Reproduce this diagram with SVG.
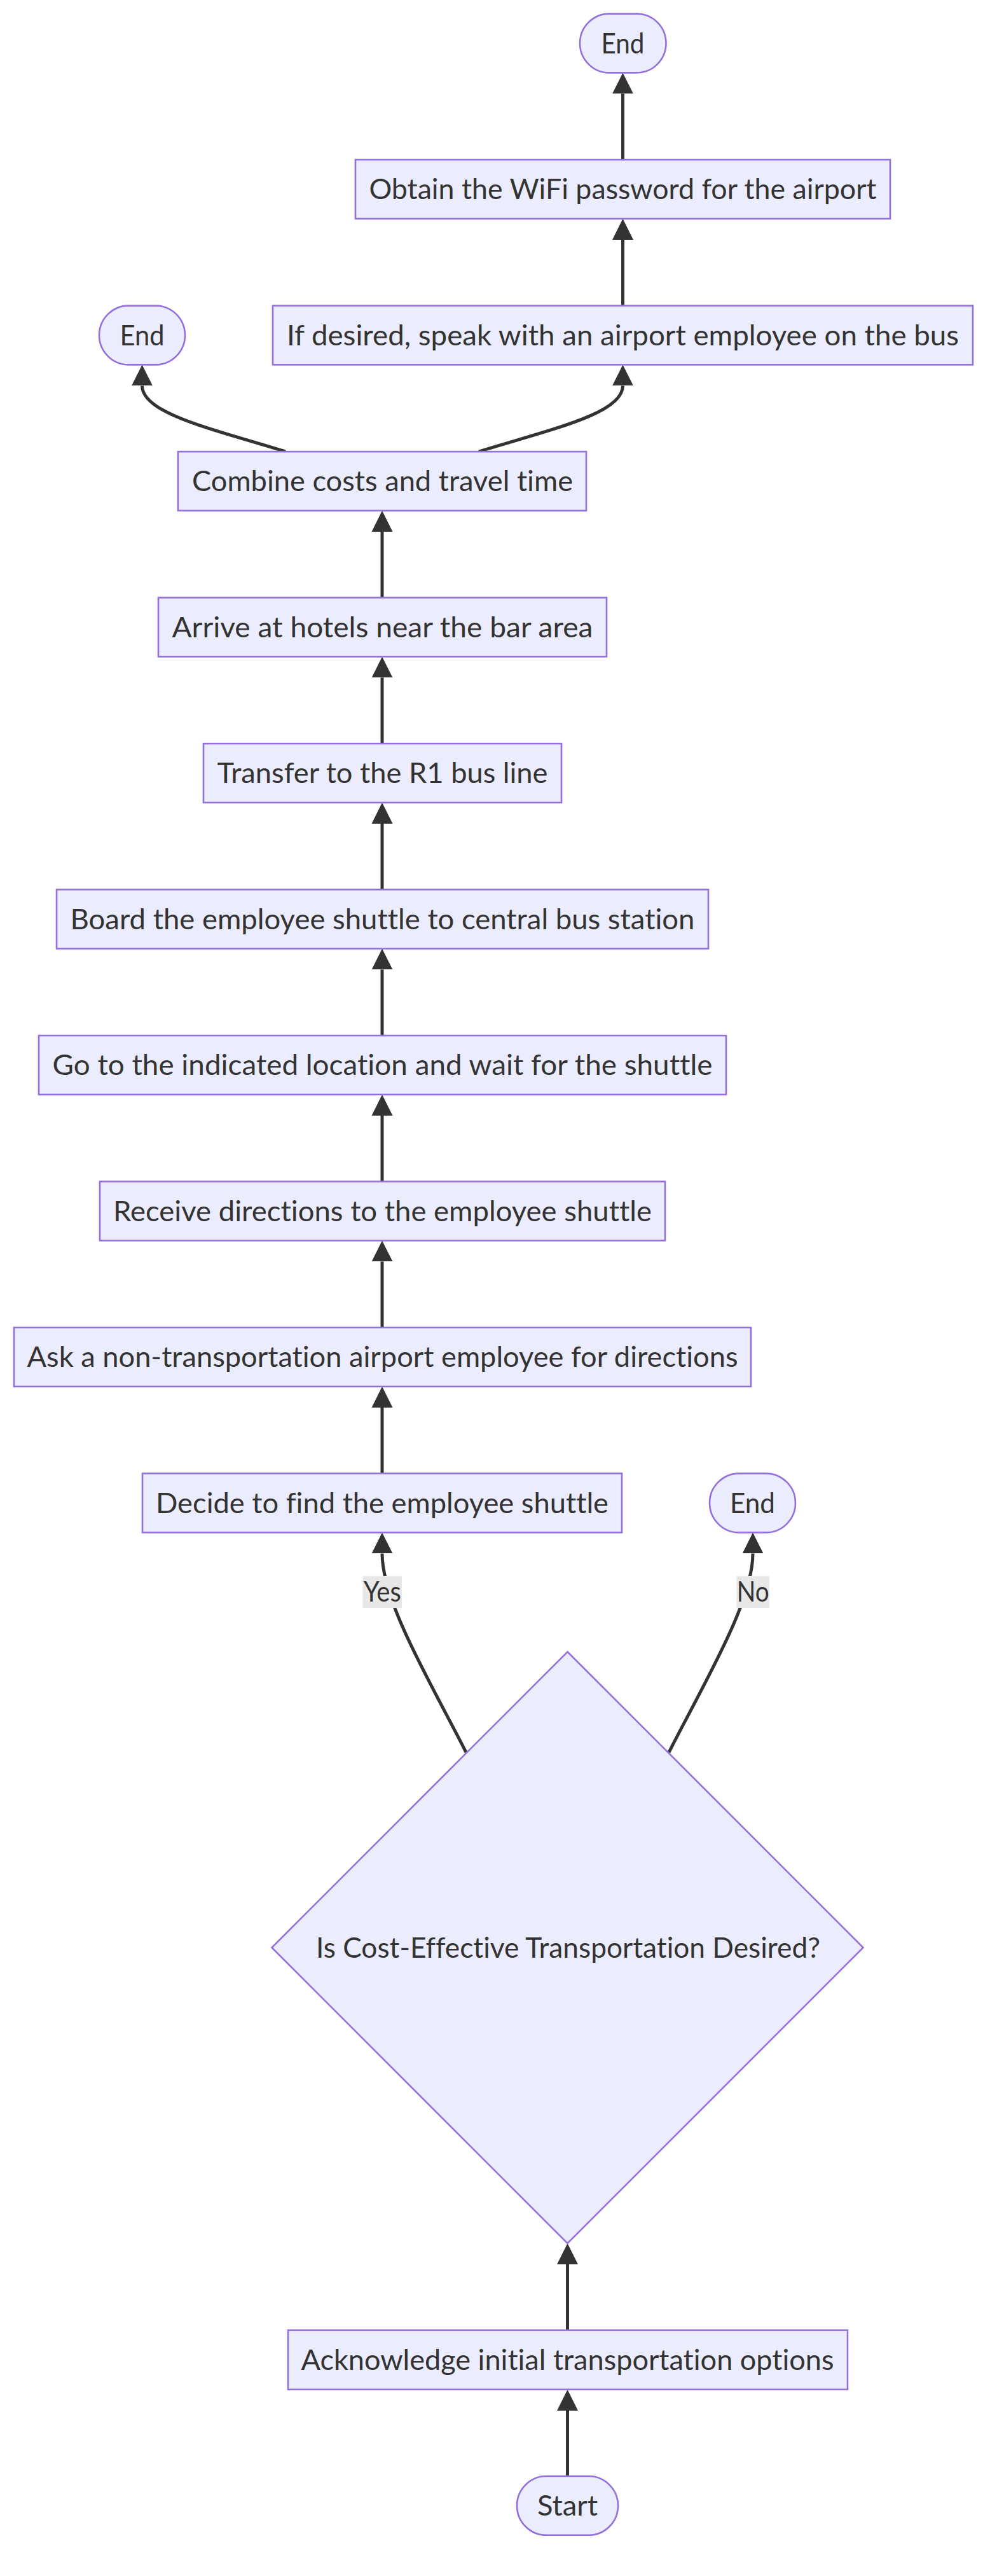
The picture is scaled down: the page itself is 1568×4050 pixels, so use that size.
<svg xmlns="http://www.w3.org/2000/svg" width="1568" height="4050" viewBox="0 0 1568 4050">
<style>
.n{fill:#ECECFF;stroke:#9370DB;stroke-width:2.6}
.t{font-family:"Lato","Liberation Sans",sans-serif;font-size:44px;fill:#333333;text-anchor:middle;font-variant-ligatures:none}
.e{fill:none;stroke:#333333;stroke-width:5}
.lb{fill:#e8e8e8}
</style>
<defs>
<marker id="arr" viewBox="0 0 10 10" refX="0" refY="5" markerUnits="userSpaceOnUse" markerWidth="33" markerHeight="33" orient="auto"><path d="M0,0 L10,5 L0,10 z" fill="#333333"/></marker>
</defs>
<rect width="1568" height="4050" fill="#ffffff"/>
<g id="connectors">
<path class="e" marker-end="url(#arr)" d="M892.5,3893 L892.5,3790"/>
<path class="e" marker-end="url(#arr)" d="M892.5,3663.6 L892.5,3560"/>
<path class="e" marker-end="url(#arr)" d="M733,2755 C680,2650 601,2520 601,2442.4"/>
<path class="e" marker-end="url(#arr)" d="M1052,2755 C1105,2650 1184,2520 1184,2442.4"/>
<path class="e" marker-end="url(#arr)" d="M601,2316.6 L601,2212.9"/>
<path class="e" marker-end="url(#arr)" d="M601,2087.1 L601,1983.4"/>
<path class="e" marker-end="url(#arr)" d="M601,1857.6 L601,1753.9"/>
<path class="e" marker-end="url(#arr)" d="M601,1628.1 L601,1524.4"/>
<path class="e" marker-end="url(#arr)" d="M601,1398.6 L601,1294.9"/>
<path class="e" marker-end="url(#arr)" d="M601,1169.1 L601,1065.4"/>
<path class="e" marker-end="url(#arr)" d="M601,939.6 L601,835.9"/>
<path class="e" marker-end="url(#arr)" d="M753,710 C870,674 979.5,650 979.5,606.4"/>
<path class="e" marker-end="url(#arr)" d="M449,710 C332,674 223.5,650 223.5,606.4"/>
<path class="e" marker-end="url(#arr)" d="M979.5,480.6 L979.5,376.9"/>
<path class="e" marker-end="url(#arr)" d="M979.5,251.1 L979.5,147.4"/>
<g id="label-yes"><rect class="lb" x="570.5" y="2478" width="61.5" height="50"/><text class="t" x="601.3" y="2518" textLength="59" lengthAdjust="spacingAndGlyphs">Yes</text></g>
<g id="label-no"><rect class="lb" x="1158.5" y="2478" width="51.5" height="50"/><text class="t" x="1184.3" y="2518" textLength="51" lengthAdjust="spacingAndGlyphs">No</text></g>
</g>
<g id="end1"><rect class="n" x="912" y="21.6" width="135.5" height="92.8" rx="46.4" ry="46.4"/><text class="t" x="979.5" y="83.8" textLength="68" lengthAdjust="spacingAndGlyphs">End</text></g>
<g id="obtain"><rect class="n" x="559" y="251.1" width="841" height="92.8"/><text class="t" x="979.5" y="313.3" textLength="798" lengthAdjust="spacingAndGlyphs">Obtain the WiFi password for the airport</text></g>
<g id="ifdesired"><rect class="n" x="429" y="480.6" width="1101" height="92.8"/><text class="t" x="979.5" y="542.8" textLength="1057" lengthAdjust="spacingAndGlyphs">If desired, speak with an airport employee on the bus</text></g>
<g id="end2"><rect class="n" x="156" y="480.6" width="135" height="92.8" rx="46.4" ry="46.4"/><text class="t" x="223.5" y="542.8" textLength="70" lengthAdjust="spacingAndGlyphs">End</text></g>
<g id="combine"><rect class="n" x="280" y="710.1" width="642" height="92.8"/><text class="t" x="601.5" y="772.3" textLength="599" lengthAdjust="spacingAndGlyphs">Combine costs and travel time</text></g>
<g id="arrive"><rect class="n" x="249" y="939.6" width="705" height="92.8"/><text class="t" x="601.5" y="1001.8" textLength="662" lengthAdjust="spacingAndGlyphs">Arrive at hotels near the bar area</text></g>
<g id="transfer"><rect class="n" x="320" y="1169.1" width="563" height="92.8"/><text class="t" x="601.5" y="1231.3" textLength="520" lengthAdjust="spacingAndGlyphs">Transfer to the R1 bus line</text></g>
<g id="board"><rect class="n" x="89" y="1398.6" width="1025" height="92.8"/><text class="t" x="601.5" y="1460.8" textLength="982" lengthAdjust="spacingAndGlyphs">Board the employee shuttle to central bus station</text></g>
<g id="goto"><rect class="n" x="61" y="1628.1" width="1081" height="92.8"/><text class="t" x="601.5" y="1690.3" textLength="1038" lengthAdjust="spacingAndGlyphs">Go to the indicated location and wait for the shuttle</text></g>
<g id="receive"><rect class="n" x="157" y="1857.6" width="889" height="92.8"/><text class="t" x="601.5" y="1919.8" textLength="847" lengthAdjust="spacingAndGlyphs">Receive directions to the employee shuttle</text></g>
<g id="ask"><rect class="n" x="22" y="2087.1" width="1159" height="92.8"/><text class="t" x="601.5" y="2149.3" textLength="1118" lengthAdjust="spacingAndGlyphs">Ask a non-transportation airport employee for directions</text></g>
<g id="decide"><rect class="n" x="224" y="2316.6" width="754" height="92.8"/><text class="t" x="601" y="2378.8" textLength="712" lengthAdjust="spacingAndGlyphs">Decide to find the employee shuttle</text></g>
<g id="end3"><rect class="n" x="1116" y="2316.6" width="135" height="92.8" rx="46.4" ry="46.4"/><text class="t" x="1183.5" y="2378.8" textLength="71" lengthAdjust="spacingAndGlyphs">End</text></g>
<g id="decision"><polygon class="n" points="892.5,2597 1357.5,3062 892.5,3527 427.5,3062"/><text class="t" x="893.5" y="3077.8" textLength="793" lengthAdjust="spacingAndGlyphs">Is Cost-Effective Transportation Desired?</text></g>
<g id="acknowledge"><rect class="n" x="453" y="3663.6" width="880" height="93.2"/><text class="t" x="892.5" y="3726" textLength="838" lengthAdjust="spacingAndGlyphs">Acknowledge initial transportation options</text></g>
<g id="start"><rect class="n" x="813" y="3893" width="159" height="92.8" rx="46.4" ry="46.4"/><text class="t" x="892.5" y="3955.2" textLength="95" lengthAdjust="spacingAndGlyphs">Start</text></g>
</svg>
